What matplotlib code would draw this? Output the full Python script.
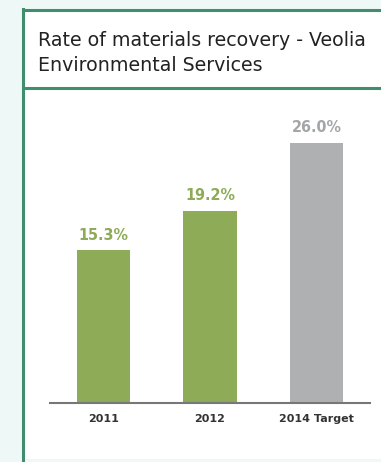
import matplotlib.pyplot as plt
from matplotlib.patches import Rectangle
from matplotlib.lines import Line2D

categories = ['2011', '2012', '2014 Target']
values = [15.3, 19.2, 26.0]
value_labels = ['15.3%', '19.2%', '26.0%']

green = '#8eab58'
grey = '#aeb0b2'
bar_colors = [green, green, grey]
label_colors = [green, green, '#a3a6a8']
border = '#3f8f6f'

plt.rcParams['font.family'] = ['DejaVu Sans']

W, H = 381, 462
fig = plt.figure(figsize=(W / 100, H / 100), dpi=100, facecolor='#eef9f7')

# framed panel with a title strip
fig.patches.append(Rectangle((23 / W, 3 / H), 1.0, 1 - 13 / H, transform=fig.transFigure,
                             facecolor='white', edgecolor='none', zorder=0))
fig.lines.append(Line2D([23 / W, 23 / W], [0, 1 - 9 / H], transform=fig.transFigure,
                        color=border, lw=2.2))
fig.lines.append(Line2D([23 / W, 1], [1 - 10 / H, 1 - 10 / H], transform=fig.transFigure,
                        color=border, lw=2.2))
fig.lines.append(Line2D([23 / W, 1], [1 - 88 / H, 1 - 88 / H], transform=fig.transFigure,
                        color=border, lw=2.2))
fig.text(38 / W, 1 - 46 / H, 'Rate of materials recovery - Veolia', fontsize=13.7,
         color='#222222', va='baseline')
fig.text(38 / W, 1 - 71 / H, 'Environmental Services', fontsize=13.7,
         color='#222222', va='baseline')

# plot area: baseline at y=403, 10 px per percent
x0, x1 = 50 / W, 370 / W
y0 = 1 - 403 / H
ax = fig.add_axes([x0, y0, x1 - x0, 300 / H])
ax.set_zorder(3)
ax.set_facecolor('none')
ax.set_xlim(-0.5, 2.5)
ax.set_ylim(0, 30)
ax.bar(range(3), values, width=0.5, color=bar_colors)
for i, (v, lab) in enumerate(zip(values, value_labels)):
    ax.text(i, v + 0.75, lab, ha='center', va='bottom', fontsize=11.5, fontweight='bold',
            fontstretch='condensed', color=label_colors[i])
for s in ['top', 'right', 'left']:
    ax.spines[s].set_visible(False)
ax.spines['bottom'].set_color('#777777')
ax.spines['bottom'].set_linewidth(1.5)
ax.set_yticks([])
ax.set_xticks(range(3))
ax.set_xticklabels(categories, fontsize=8, fontweight='bold', color='#333333')
ax.tick_params(axis='x', length=0, pad=8)

fig.savefig('out.png', dpi=100, facecolor=fig.get_facecolor())
